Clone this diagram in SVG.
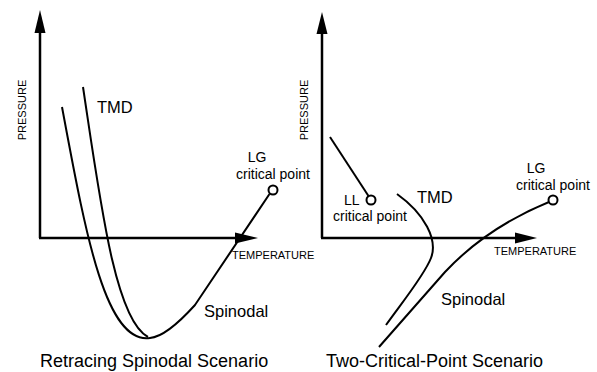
<svg xmlns="http://www.w3.org/2000/svg" width="597" height="372" viewBox="0 0 597 372">
<style>
text{font-family:"Liberation Sans",Arial,sans-serif;fill:#000}
.ax{stroke:#000;stroke-width:2.5;fill:none}
.cv{stroke:#000;stroke-width:2;fill:none}
.pt{stroke:#000;stroke-width:2;fill:#fff}
.arr{fill:#000}
.small{font-size:11px}
.lbl{font-size:14px}
.big{font-size:16.5px}
.cap{font-size:18px}
</style>
<rect width="597" height="372" fill="#fff"/>
<g id="left-panel">
  <g id="left-axes">
    <line class="ax" x1="40" y1="28" x2="40" y2="238"/>
    <line class="ax" x1="39" y1="238" x2="240" y2="238"/>
    <polygon class="arr" points="40,10 34.5,33 45.5,33"/>
    <polygon class="arr" points="258,238 235,232.5 235,243.5"/>
    <text class="small" transform="translate(26,110) rotate(-90)" text-anchor="middle">PRESSURE</text>
    <text class="small" x="232" y="259">TEMPERATURE</text>
  </g>
  <g id="left-connectors">
    <path id="left-spinodal" class="cv" d="M62,107 C85,230 105,345 150,338 C162,337 176,326 195,305 L269.5,194"/>
    <path id="left-tmd" class="cv" d="M83,87 C100,200 115,320 148,337"/>
  </g>
  <g id="left-lg-point">
    <circle class="pt" cx="273" cy="190" r="4.5"/>
    <text class="lbl" x="257" y="162" text-anchor="middle">LG</text>
    <text class="lbl" x="236" y="179">critical point</text>
  </g>
  <text class="big" x="97" y="113">TMD</text>
  <text class="big" x="204" y="317">Spinodal</text>
  <text class="cap" x="40" y="367">Retracing Spinodal Scenario</text>
</g>
<g id="right-panel">
  <g id="right-axes">
    <line class="ax" x1="322" y1="30" x2="322" y2="238"/>
    <line class="ax" x1="321" y1="238" x2="518" y2="238"/>
    <polygon class="arr" points="322,12 316.5,34 327.5,34"/>
    <polygon class="arr" points="537,238 515,232.5 515,243.5"/>
    <text class="small" transform="translate(308,110) rotate(-90)" text-anchor="middle">PRESSURE</text>
    <text class="small" x="494" y="255">TEMPERATURE</text>
  </g>
  <g id="right-connectors">
    <line id="ll-line" class="cv" x1="330" y1="137" x2="368.5" y2="196"/>
    <path id="right-tmd" class="cv" d="M397,194 C425,214 438,240 431,258 C424,276 400,305 386,325"/>
    <path id="right-spinodal" class="cv" d="M549,202 C510,218 475,240 445,272 L379,347"/>
  </g>
  <g id="ll-point">
    <circle class="pt" cx="371" cy="200" r="4.5"/>
    <text class="lbl" x="344" y="205">LL</text>
    <text class="lbl" x="333" y="221">critical point</text>
  </g>
  <g id="right-lg-point">
    <circle class="pt" cx="553" cy="200" r="4.5"/>
    <text class="lbl" x="536" y="173" text-anchor="middle">LG</text>
    <text class="lbl" x="516" y="190">critical point</text>
  </g>
  <text class="big" x="417" y="203">TMD</text>
  <text class="big" x="441" y="305">Spinodal</text>
  <text class="cap" x="326" y="367">Two-Critical-Point Scenario</text>
</g>
</svg>
